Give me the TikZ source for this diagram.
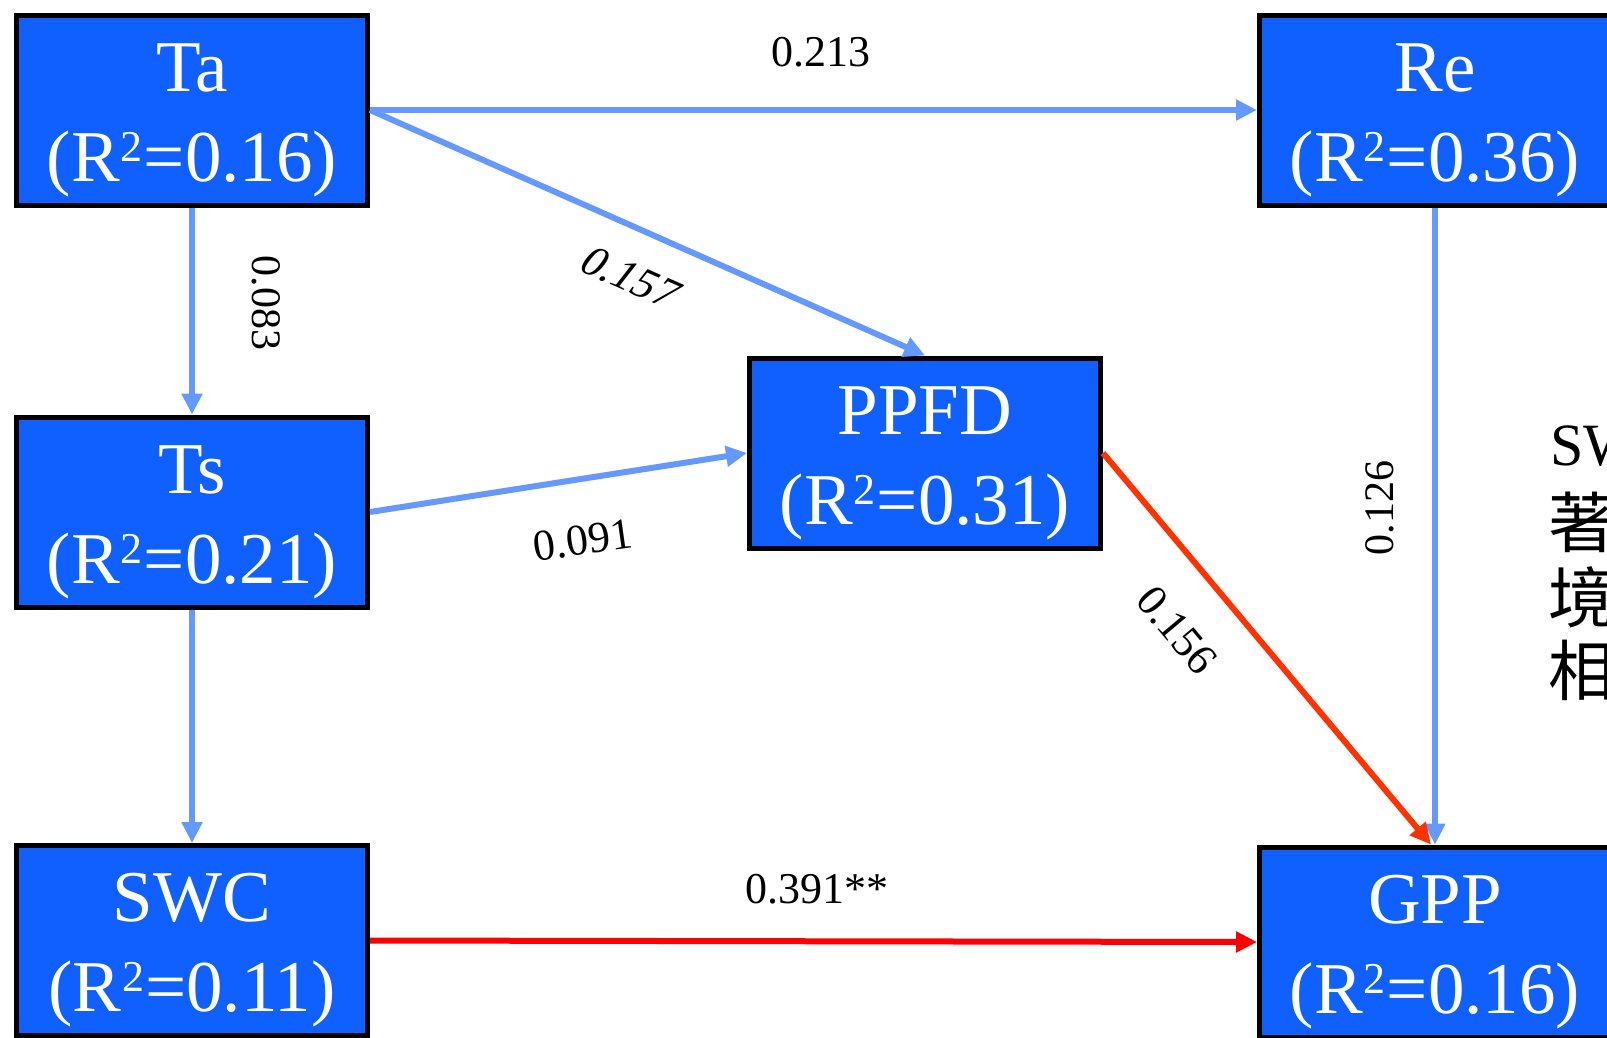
\documentclass[tikz,border=0pt]{standalone}
\usepackage{fontspec}
\setmainfont{Liberation Serif}
\newfontfamily\cjk{Noto Sans CJK TC}
\usetikzlibrary{arrows.meta}
\definecolor{boxblue}{RGB}{16,96,255}
\definecolor{arrowblue}{RGB}{102,153,255}
\definecolor{arrowred}{RGB}{255,0,0}
\definecolor{arroworange}{RGB}{255,51,0}
\tikzset{
  box/.style={draw=black, line width=5pt, fill=boxblue, minimum width=351pt,
    minimum height=190pt, inner sep=0pt, text=white, align=center,
    font=\fontsize{73}{90}\selectfont},
  conn/.style={line width=6pt, -{Triangle[length=21pt,width=20pt]}},
  bluearrow/.style={conn, draw=arrowblue, fill=arrowblue},
  redarrow/.style={conn, draw=arrowred, fill=arrowred},
  orangearrow/.style={conn, draw=arroworange, fill=arroworange},
  coef/.style={inner sep=0pt, font=\fontsize{44}{50}\selectfont},
  vcoef/.style={inner sep=0pt, font=\fontsize{42}{48}\selectfont},
  sidetext/.style={inner sep=0pt, font=\fontsize{60}{70}\selectfont},
  sidecjk/.style={inner sep=0pt, font=\cjk\fontsize{66}{75}\selectfont}
}
\newcommand{\supertwo}{\kern1pt\raisebox{20pt}{\fontsize{44}{44}\selectfont 2}\kern1pt}
\newcommand{\boxtext}[2]{\rule{0pt}{68pt}#1\\(R\supertwo=#2)}
\begin{document}
\begin{tikzpicture}[x=1pt,y=-1pt]
\useasboundingbox (0,0) rectangle (1607,1037);
\fill[white] (0,0) rectangle (1607,1037);

\node[box] (ta)   at (192,110)   {\boxtext{Ta}{0.16}};
\node[box] (ts)   at (192,512)   {\boxtext{Ts}{0.21}};
\node[box] (swc)  at (192,940.5) {\boxtext{SWC}{0.11}};
\node[box] (ppfd) at (925,453)   {\boxtext{PPFD}{0.31}};
\node[box] (re)   at (1435,110)  {\boxtext{Re}{0.36}};
\node[box] (gpp)  at (1435,942)  {\boxtext{GPP}{0.16}};

\draw[bluearrow] (ta.east) -- (re.west);
\draw[bluearrow] (ta.east) -- (ppfd.north);
\draw[bluearrow] (ta.south) -- (ts.north);
\draw[bluearrow] (ts.east) -- (ppfd.west);
\draw[bluearrow] (ts.south) -- (swc.north);
\draw[bluearrow] (re.south) -- (gpp.north);
\draw[orangearrow] (ppfd.east) -- ([xshift=-4pt]gpp.north);
\draw[redarrow] (swc.east) -- (gpp.west);

\node[coef] (l213) at (821,52) {0.213};
\node[vcoef, rotate=-90] (l083) at (266,303) {0.083};
\node[coef, rotate=-24, xslant=0.25] (l157) at (631,278) {0.157};
\node[coef, rotate=8] (l091) at (583,540) {0.091};
\node[coef, rotate=-50] (l156) at (1177,630) {0.156};
\node[vcoef, rotate=90] (l126) at (1380,508) {0.126};
\node[coef, anchor=base] (l391) at (817,903) {0.391**};

\node[sidetext, anchor=base west] (sw) at (1550,465) {SW};
\node[sidecjk, anchor=west] (c1) at (1548,522) {著};
\node[sidecjk, anchor=west] (c2) at (1548,597) {境};
\node[sidecjk, anchor=west] (c3) at (1548,670) {相};
\end{tikzpicture}
\end{document}
